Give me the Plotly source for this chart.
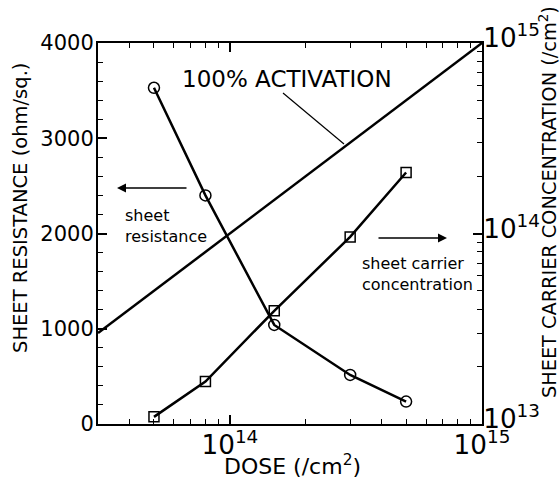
import plotly.graph_objects as go

# Data
dose = [5e13, 8e13, 1.5e14, 3e14, 5e14]
sheet_resistance = [3530, 2400, 1040, 515, 235]
carrier_conc = [1.09e13, 1.67e13, 3.93e13, 9.6e13, 2.09e14]
activation_dose = [3e13, 1e15]
activation_conc = [3e13, 1e15]

FONT = "DejaVu Sans"
L, R, T, B = 98, 78, 43, 57
W, H = 560, 481
pw, ph = W - L - R, H - T - B

def px(x):
    return (x - L) / pw

def py(y):
    return (H - B - y) / ph

fig = go.Figure()
fig.add_trace(go.Scatter(x=activation_dose, y=activation_conc, yaxis="y2", mode="lines",
                         line=dict(color="black", width=2.5), showlegend=False))
fig.add_trace(go.Scatter(x=dose, y=sheet_resistance, mode="lines+markers",
                         line=dict(color="black", width=2.5),
                         marker=dict(symbol="circle-open", size=11, color="black", line=dict(width=1.5)),
                         showlegend=False))
fig.add_trace(go.Scatter(x=dose, y=carrier_conc, yaxis="y2", mode="lines+markers",
                         line=dict(color="black", width=2.5),
                         marker=dict(symbol="square-open", size=10, color="black", line=dict(width=1.5)),
                         showlegend=False))

tickfont = dict(family=FONT, size=21, color="black")
fig.update_layout(
    width=W, height=H,
    margin=dict(l=L, r=R, t=T, b=B),
    paper_bgcolor="white", plot_bgcolor="white",
    font=dict(family=FONT, color="black"),
    xaxis=dict(type="log", range=[13.477, 15], dtick=1, exponentformat="power",
               ticks="inside", ticklen=9, tickwidth=1.5, tickcolor="black",
               minor=dict(ticks="inside", ticklen=5, tickwidth=1.2, tickcolor="black"),
               showline=True, linecolor="black", linewidth=2, mirror="ticks",
               showgrid=False, zeroline=False, tickfont=tickfont, ticklabelstandoff=-2),
    yaxis=dict(range=[0, 4000], dtick=1000, ticks="inside", ticklen=9, tickwidth=1.5,
               tickcolor="black",
               minor=dict(dtick=200, ticks="inside", ticklen=5, tickwidth=1.2, tickcolor="black"),
               showline=True, linecolor="black", linewidth=2,
               showgrid=False, zeroline=False, tickfont=tickfont, ticklabelstandoff=-2),
    yaxis2=dict(type="log", range=[13, 15], dtick=1, exponentformat="power", overlaying="y",
                side="right", ticks="inside", ticklen=9, tickwidth=1.5, tickcolor="black",
                minor=dict(ticks="inside", ticklen=5, tickwidth=1.2, tickcolor="black"),
                showline=True, linecolor="black", linewidth=2,
                showgrid=False, zeroline=False, tickfont=tickfont, ticklabelstandoff=-5,
                ticklabelshift=-5),
)

ann = []
ann.append(dict(x=px(20), y=py(208), xref="paper", yref="paper", text="SHEET RESISTANCE (ohm/sq.)",
                textangle=-90, showarrow=False, font=dict(size=19.5)))
ann.append(dict(x=px(548), y=py(202), xref="paper", yref="paper",
                text="SHEET CARRIER CONCENTRATION (/cm<sup>2</sup>)",
                textangle=-90, showarrow=False, font=dict(size=19.3)))
ann.append(dict(x=px(292), y=py(465), xref="paper", yref="paper", text="DOSE (/cm<sup>2</sup>)",
                showarrow=False, font=dict(size=22)))
ann.append(dict(x=px(287), y=py(79), xref="paper", yref="paper", text="100% ACTIVATION",
                showarrow=False, font=dict(size=23)))
for a in ann:
    a["xanchor"] = "center"
    a["yanchor"] = "middle"
ann.append(dict(x=px(123), y=py(226), xref="paper", yref="paper", text="sheet<br>resistance",
                xanchor="left", yanchor="middle", align="left", showarrow=False, font=dict(size=16)))
ann.append(dict(x=px(360), y=py(274), xref="paper", yref="paper", text="sheet carrier<br>concentration",
                xanchor="left", yanchor="middle", align="left", showarrow=False, font=dict(size=16)))
# arrows
ann.append(dict(x=px(117), y=py(188), ax=px(188), ay=py(188), xref="x domain", yref="y domain",
                axref="x domain", ayref="y domain", text="", showarrow=True, arrowhead=2,
                arrowsize=1.2, arrowwidth=1.5, arrowcolor="black"))
ann.append(dict(x=px(447), y=py(238), ax=px(377), ay=py(238), xref="x domain", yref="y domain",
                axref="x domain", ayref="y domain", text="", showarrow=True, arrowhead=2,
                arrowsize=1.2, arrowwidth=1.5, arrowcolor="black"))
fig.update_layout(annotations=ann)

fig.add_shape(type="line", xref="paper", yref="paper", x0=px(283), y0=py(93), x1=px(344), y1=py(144),
              line=dict(color="black", width=1.2))

fig.write_html("out.html")
